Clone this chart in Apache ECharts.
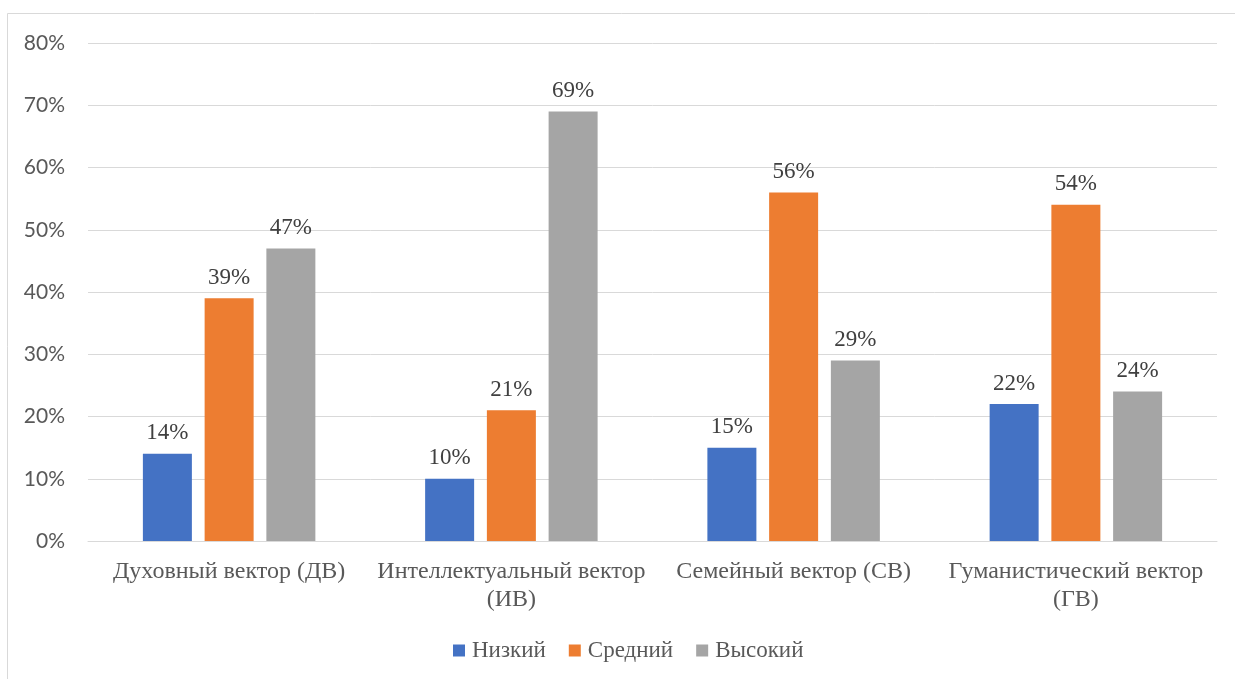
<!DOCTYPE html>
<html>
<head>
<meta charset="utf-8">
<script src="https://cdn.jsdelivr.net/npm/echarts@6/dist/echarts.min.js"></script>
<style>
  html, body { margin: 0; padding: 0; background: #fff; }
  #chart { width: 1235px; height: 679px; }
</style>
</head>
<body>
<div id="chart"></div>
<script>
// Categories (value vectors) and the share of each level, in percent
const categories = [
  'Духовный вектор (ДВ)',
  'Интеллектуальный вектор\n(ИВ)',
  'Семейный вектор (СВ)',
  'Гуманистический вектор\n(ГВ)'
];
const seriesNames = ['Низкий', 'Средний', 'Высокий'];
const low = [14, 10, 15, 22];
const medium = [39, 21, 56, 54];
const high = [47, 69, 29, 24];
const seriesColors = ['#4472c4', '#ed7d31', '#a5a5a5'];

const serif = '"Liberation Serif", "Times New Roman", serif';
const sans = 'Lato, "Open Sans", sans-serif';

const chart = echarts.init(document.getElementById('chart'), null, { renderer: 'canvas' });

function barSeries(name, data, color) {
  return {
    name: name,
    type: 'bar',
    data: data,
    barWidth: 49,
    barGap: '26%',
    itemStyle: { color: color },
    label: {
      show: true,
      position: 'top',
      distance: 9,
      formatter: p => p.value + '%',
      fontFamily: serif,
      fontSize: 23,
      color: '#404040'
    }
  };
}

chart.setOption({
  animation: false,
  backgroundColor: '#ffffff',
  graphic: [{
    type: 'rect',
    shape: { x: 7.5, y: 13.5, width: 1300, height: 720 },
    style: { fill: 'none', stroke: '#d9d9d9', lineWidth: 1 },
    silent: true,
    z: -1
  }],
  grid: { left: 88, right: 18, top: 43, bottom: 138, containLabel: false },
  legend: {
    data: seriesNames,
    top: 634,
    left: 448,
    itemWidth: 12,
    itemHeight: 12,
    itemGap: 23,
    icon: 'rect',
    textStyle: { fontFamily: serif, fontSize: 23, color: '#595959', padding: [0, 0, 0, 2] }
  },
  xAxis: {
    type: 'category',
    data: categories,
    axisLine: { show: true, lineStyle: { color: '#d9d9d9', width: 1 } },
    axisTick: { show: false },
    axisLabel: {
      interval: 0,
      margin: 17,
      lineHeight: 28,
      fontFamily: serif,
      fontSize: 24,
      color: '#595959'
    }
  },
  yAxis: {
    type: 'value',
    min: 0,
    max: 80,
    interval: 10,
    axisLine: { show: false },
    axisTick: { show: false },
    splitLine: { lineStyle: { color: '#d9d9d9', width: 1 } },
    axisLabel: {
      formatter: v => v + '%',
      margin: 23,
      fontFamily: sans,
      fontSize: 21,
      color: '#595959'
    }
  },
  series: [
    barSeries(seriesNames[0], low, seriesColors[0]),
    barSeries(seriesNames[1], medium, seriesColors[1]),
    barSeries(seriesNames[2], high, seriesColors[2])
  ]
});
</script>
</body>
</html>
